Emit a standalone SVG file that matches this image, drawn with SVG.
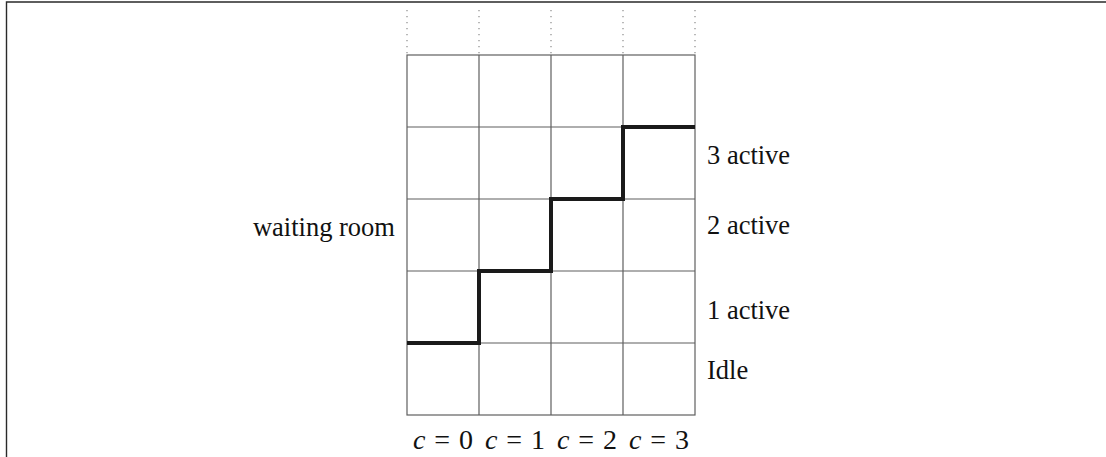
<svg xmlns="http://www.w3.org/2000/svg" width="1106" height="457" viewBox="0 0 1106 457">
  <style>
    .frame { stroke: #2a2a2a; stroke-width: 1.4; fill: none; }
    .grid { stroke: #5f5f5f; stroke-width: 1.2; fill: none; }
    .dots { stroke: #8a8a8a; stroke-width: 1.2; stroke-dasharray: 1.2 4.8; fill: none; }
    .path { stroke: #1a1a1a; stroke-width: 4; fill: none; stroke-linejoin: miter; }
    .lbl { font-family: "Liberation Serif", "Times New Roman", serif; font-size: 26.5px; fill: #111; }
    .math { font-family: "Liberation Serif", "Times New Roman", serif; font-size: 28px; fill: #111; text-anchor: middle; }
    .it { font-style: italic; }
  </style>
  <rect width="1106" height="457" fill="#ffffff"/>

  <!-- page frame -->
  <path class="frame" d="M6.5 457 V2 H1106"/>

  <!-- dotted continuation above the grid -->
  <g id="dots">
    <path class="dots" d="M407 10 V55 M479 10 V55 M551 10 V55 M623 10 V55 M695 10 V55"/>
  </g>

  <!-- 4 x 5 grid of cells -->
  <g id="grid">
    <rect class="grid" x="407" y="55" width="288" height="360"/>
    <path class="grid" d="M479 55 V415 M551 55 V415 M623 55 V415 M407 127 H695 M407 199 H695 M407 271 H695 M407 343 H695"/>
  </g>

  <!-- staircase -->
  <g id="connectors">
    <path class="path" d="M407 343 H479 V271 H551 V199 H623 V127 H695"/>
  </g>

  <!-- row labels -->
  <g id="label-waiting"><text class="lbl" x="395" y="236" text-anchor="end">waiting room</text></g>
  <g id="label-3"><text class="lbl" x="707" y="164">3 active</text></g>
  <g id="label-2"><text class="lbl" x="707" y="234">2 active</text></g>
  <g id="label-1"><text class="lbl" x="707" y="319">1 active</text></g>
  <g id="label-idle"><text class="lbl" x="707" y="379">Idle</text></g>

  <!-- column labels -->
  <g id="col-0"><text class="math" x="443" y="449"><tspan class="it">c</tspan><tspan dx="9">=</tspan><tspan dx="9">0</tspan></text></g>
  <g id="col-1"><text class="math" x="515" y="449"><tspan class="it">c</tspan><tspan dx="9">=</tspan><tspan dx="9">1</tspan></text></g>
  <g id="col-2"><text class="math" x="587" y="449"><tspan class="it">c</tspan><tspan dx="9">=</tspan><tspan dx="9">2</tspan></text></g>
  <g id="col-3"><text class="math" x="659" y="449"><tspan class="it">c</tspan><tspan dx="9">=</tspan><tspan dx="9">3</tspan></text></g>
</svg>
